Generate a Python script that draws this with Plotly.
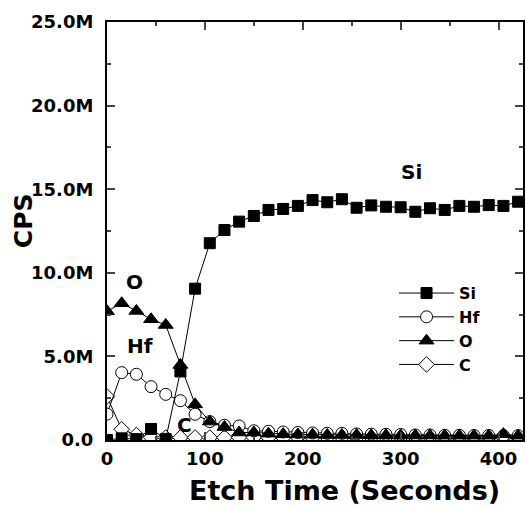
import plotly.graph_objects as go

# ---- data (counts in millions of CPS) ----
time_s = [0, 15, 30, 45, 60, 75, 90, 105, 120, 135, 150, 165, 180, 195, 210,
          225, 240, 255, 270, 285, 300, 315, 330, 345, 360, 375, 390, 405, 420]
si = [0.0, 0.1, 0.05, 0.66, 0.05, 4.1, 9.05, 11.77, 12.56, 13.06, 13.4, 13.76, 13.82, 14.0, 14.35,
      14.22, 14.4, 13.89, 14.03, 13.95, 13.92, 13.65, 13.86, 13.76, 14.0, 13.95, 14.05, 14.0, 14.25]
hf = [1.55, 4.03, 3.93, 3.19, 2.73, 2.35, 1.54, 1.1, 0.88, 0.84, 0.55, 0.52, 0.48, 0.45, 0.42,
      0.4, 0.4, 0.36, 0.35, 0.34, 0.33, 0.3, 0.3, 0.28, 0.28, 0.27, 0.27, 0.26, 0.26]
ox = [7.7, 8.18, 7.72, 7.22, 6.88, 4.49, 2.13, 1.1, 0.78, 0.45, 0.45, 0.38, 0.35, 0.33, 0.32,
      0.3, 0.3, 0.3, 0.28, 0.28, 0.27, 0.27, 0.27, 0.26, 0.26, 0.26, 0.26, 0.35, 0.26]
cc = [2.6, 0.64, 0.3, 0.15, 0.15, 0.15, 0.15, 0.15, 0.15, 0.15, 0.15, 0.15, 0.15, 0.15, 0.15,
      0.15, 0.15, 0.15, 0.15, 0.15, 0.15, 0.15, 0.15, 0.15, 0.15, 0.15, 0.15, 0.15, 0.15]

y_ticks = [0, 5, 10, 15, 20, 25]
y_tick_text = ["0.0", "5.0M", "10.0M", "15.0M", "20.0M", "25.0M"]
x_ticks = [0, 100, 200, 300, 400]

labels = [("Si", 311, 16.0), ("O", 28.5, 9.45), ("Hf", 33.5, 5.6), ("C", 79, 0.9)]

FONT = "DejaVu Sans"
scale = 1e6

def tr(name, vals, symbol, fill, size, rank):
    return go.Scatter(
        x=time_s, y=[v * scale for v in vals], name=name, mode="lines+markers",
        line=dict(color="black", width=1),
        marker=dict(symbol=symbol, size=size, color=fill,
                    line=dict(color="black", width=1)),
        legendrank=rank, legendgroup=name,
    )

fig = go.Figure()
fig.add_trace(tr("C", cc, "diamond", "white", 12, 4))
fig.add_trace(tr("Hf", hf, "circle", "white", 12, 2))
fig.add_trace(tr("Si", si, "square", "black", 11, 1))
fig.add_trace(tr("O", ox, "triangle-up", "black", 13, 3))

for txt, xv, yv in labels:
    fig.add_annotation(x=xv, y=yv * scale, text=f"<b>{txt}</b>", showarrow=False,
                       font=dict(family=FONT, size=20, color="black"))

fig.add_annotation(xref="paper", yref="paper", x=0.572, y=-0.122,
                   xanchor="center", yanchor="middle",
                   text="<b>Etch Time (Seconds)</b>", showarrow=False,
                   font=dict(family=FONT, size=27, color="black"))
fig.add_annotation(xref="paper", yref="paper", x=-0.199, y=0.524,
                   xanchor="center", yanchor="middle",
                   text="<b>CPS</b>", showarrow=False, textangle=-90,
                   font=dict(family=FONT, size=25, color="black"))

fig.update_layout(
    width=526, height=507,
    margin=dict(l=107, r=1, t=22, b=67),
    paper_bgcolor="white", plot_bgcolor="white",
    font=dict(family=FONT, color="black"),
    legend=dict(x=0.69, y=0.392, xanchor="left", yanchor="top",
                bgcolor="rgba(0,0,0,0)", font=dict(family=FONT, size=16, weight="bold"),
                tracegroupgap=0, itemwidth=55),
    showlegend=True,
)
fig.update_xaxes(range=[0, 425], tickvals=x_ticks, ticks="inside", ticklen=8,
                 tickwidth=1.5, showline=True, linecolor="black", linewidth=2,
                 mirror="allticks", showgrid=False, zeroline=False,
                 tickfont=dict(family=FONT, size=18, weight="bold"),
                 ticklabelstandoff=1,
                 minor=dict(ticks="inside", ticklen=4, dtick=50, tick0=0, showgrid=False))
fig.update_yaxes(range=[0, 25e6], tickvals=[v * scale for v in y_ticks], ticktext=y_tick_text,
                 ticks="inside", ticklen=8, tickwidth=1.5, showline=True, linecolor="black",
                 linewidth=2, mirror="allticks", showgrid=False, zeroline=False,
                 tickfont=dict(family=FONT, size=18, weight="bold"),
                 ticklabelstandoff=8,
                 minor=dict(ticks="inside", ticklen=4, dtick=2.5e6, tick0=0, showgrid=False))

fig.write_html("out.html")
